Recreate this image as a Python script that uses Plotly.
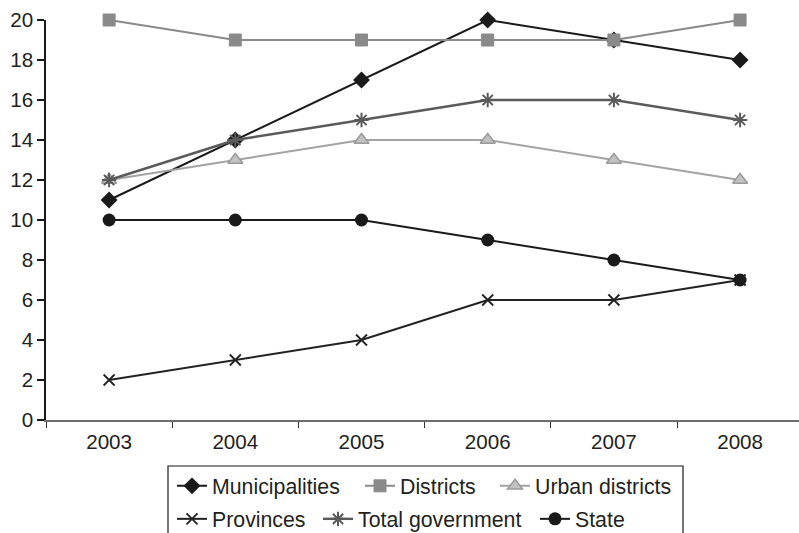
import plotly.graph_objects as go

# Survey years and index values per government level
years = ["2003", "2004", "2005", "2006", "2007", "2008"]
municipalities = [11, 14, 17, 20, 19, 18]
districts = [20, 19, 19, 19, 19, 20]
urban_districts = [12, 13, 14, 14, 13, 12]
provinces = [2, 3, 4, 6, 6, 7]
total_government = [12, 14, 15, 16, 16, 15]
state = [10, 10, 10, 9, 8, 7]

y_ticks = list(range(0, 21, 2))

W, H = 799, 533
ML, MR, MT, MB = 46, 0, 20, 113
PW, PH = W - ML - MR, H - MT - MB
FONT = "Liberation Sans, Arial, sans-serif"
TXT = "#231f20"


def px_x(px):
    return (px - ML) / PW


def px_y(py):
    return (H - MB - py) / PH


series = [
    # name, values, line colour, line width, marker dict, legend id
    ("Municipalities", municipalities, "#1a1a1a", 2,
     dict(symbol="diamond", size=13, color="#1a1a1a"), "legend"),
    ("Districts", districts, "#8a8a8a", 2,
     dict(symbol="square", size=12, color="#8a8a8a",
          line=dict(color="#8a8a8a", width=1)), "legend2"),
    ("Urban districts", urban_districts, "#a3a3a3", 2,
     dict(symbol="triangle-up", size=13, color="#c2c2c2",
          line=dict(color="#9a9a9a", width=1.5)), "legend3"),
    ("Provinces", provinces, "#222222", 2,
     dict(symbol="x-thin", size=11, color="#222222",
          line=dict(color="#222222", width=1.8)), "legend4"),
    ("Total government", total_government, "#5a5a5a", 2.4,
     dict(symbol="asterisk", size=12, color="#5a5a5a",
          line=dict(color="#5a5a5a", width=2)), "legend5"),
    ("State", state, "#1a1a1a", 2,
     dict(symbol="circle", size=13, color="#1a1a1a"), "legend6"),
]

fig = go.Figure()
for name, vals, col, lw, mk, leg in series:
    fig.add_trace(go.Scatter(
        x=years, y=vals, name=name, mode="lines+markers",
        line=dict(color=col, width=lw), marker=mk,
        cliponaxis=False, legend=leg,
    ))

# legend entries placed individually (two rows, free flowing),
# positioned in container coordinates so they do not push the margins
legend_pos = {
    "legend": (172, 486),
    "legend2": (360, 486),
    "legend3": (495, 486),
    "legend4": (172, 519),
    "legend5": (318, 519),
    "legend6": (535, 519),
}
legend_layout = {}
for key, (lx, ly) in legend_pos.items():
    legend_layout[key] = dict(
        xref="container", yref="container",
        x=lx / W, y=1 - ly / H, xanchor="left", yanchor="middle",
        orientation="h", bgcolor="rgba(0,0,0,0)", borderwidth=0,
        font=dict(family=FONT, size=21.3, color=TXT),
        itemwidth=30, itemclick=False, itemdoubleclick=False,
    )

fig.update_layout(
    width=W, height=H,
    margin=dict(l=ML, r=MR, t=MT, b=MB, autoexpand=False),
    paper_bgcolor="white", plot_bgcolor="white",
    font=dict(family=FONT, size=20, color=TXT),
    showlegend=True,
    **legend_layout,
    xaxis=dict(
        type="category", range=[-0.5, -0.5 + PW / 126.2],
        showgrid=False, zeroline=False, automargin=False,
        showline=True, linecolor="#6e6e6e", linewidth=2,
        ticks="outside", tickson="boundaries", ticklen=6,
        tickcolor="#333333", tickwidth=1,
        ticklabelstandoff=2,
        tickfont=dict(family=FONT, size=20.6, color=TXT),
    ),
    yaxis=dict(
        range=[0, 20], tickvals=y_ticks,
        showgrid=False, zeroline=False, automargin=False,
        showline=True, linecolor="#1a1a1a", linewidth=1.5,
        ticks="outside", ticklen=7, tickcolor="#1a1a1a", tickwidth=1.5,
        tickfont=dict(family=FONT, size=20.6, color=TXT),
    ),
    shapes=[dict(
        type="rect", xref="paper", yref="paper",
        x0=px_x(168), x1=px_x(683), y0=px_y(466), y1=px_y(560),
        line=dict(color="#1a1a1a", width=1.2), fillcolor="rgba(0,0,0,0)",
        layer="above",
    )],
)

fig.write_html("out.html")
